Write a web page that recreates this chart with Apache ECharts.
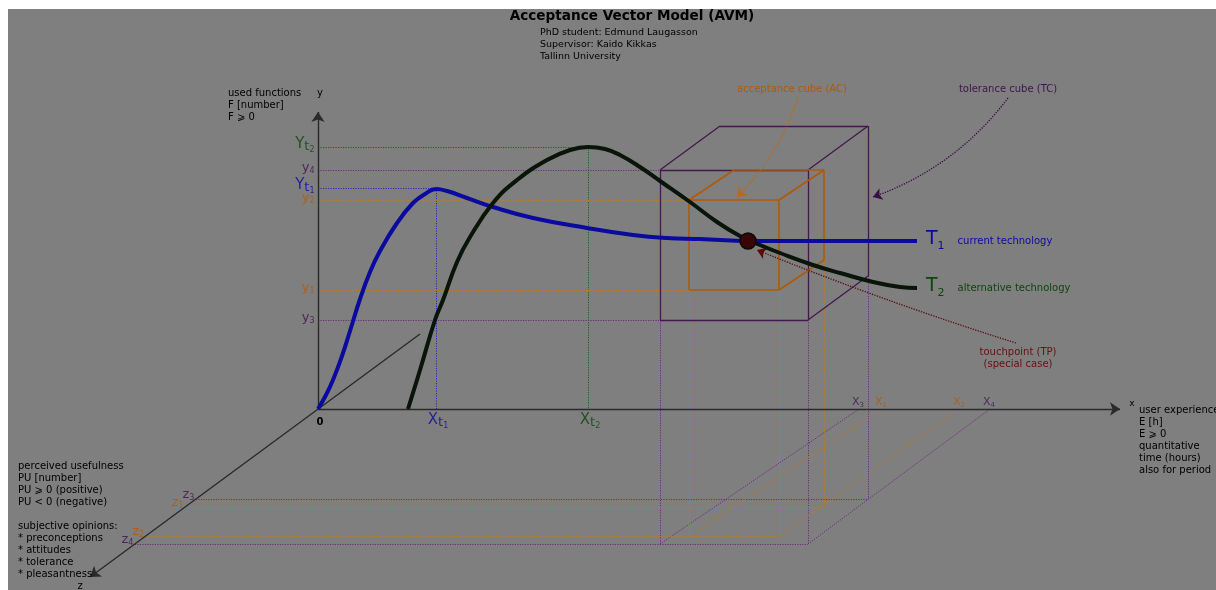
<!DOCTYPE html>
<html><head><meta charset="utf-8">
<script src="https://cdn.jsdelivr.net/npm/echarts@6/dist/echarts.min.js"></script>
<style>
html,body{margin:0;padding:0;background:#fff;width:1216px;height:590px;overflow:hidden}
#c{position:absolute;left:8px;top:9px;width:1208px;height:581px;background:#7f7f7f}
</style></head>
<body><div id="c"></div>
<script>
// ---------- data ----------
const t1X = [0, 8, 15, 24, 32, 42, 52, 62, 79, 95, 107, 118, 129, 149, 175, 215, 269, 315, 349, 382, 432, 482, 599];
const t1Y = [0, 14, 29, 53, 78, 110, 137, 158, 186, 206, 215, 220, 218, 211, 202, 191, 181, 174, 171, 170, 168, 168, 168];
const t2X = [90, 102, 117, 125, 139, 152, 175, 199, 229, 252, 270, 287, 302, 322, 342, 372, 399, 422, 442, 462, 495, 522, 555, 582, 599];
const t2Y = [0, 39, 89, 109, 147, 172, 206, 229, 249, 259, 262, 260, 254, 242, 228, 207, 187, 173, 164, 156, 144, 136, 127, 122, 121];
const touchpoint = [430, 168];

const yTickLabels = ['Yt2', 'y4', 'Yt1', 'y2', 'y1', 'y3'];
const yTickValues = [262, 239, 221, 209, 119, 89];
const xTickLabels = ['Xt1', 'Xt2', 'x3', 'x1', 'x2', 'x4'];
const xTickValues = [118, 270, 541, 564, 642, 672];
const zTickLabels = ['z3', 'z1', 'z2', 'z4'];
const zTickValues = [90, 98, 127, 135];

// ---------- style / layout ----------
const FONT = 'DejaVu Sans';
const BLUE = '#0a0aa0', GREEN = '#0c460c', T2C = '#081508', ORANGE = '#b05a06',
      PURPLE = '#40124c', DRED = '#6a0e0e', AXIS = '#2a2a2a', TXT = '#000';
const ZSLOPE = 0.737;
const tickColor = {Yt2: GREEN, Xt2: GREEN, Yt1: BLUE, Xt1: BLUE,
  y1: ORANGE, y2: ORANGE, x1: ORANGE, x2: ORANGE, z1: ORANGE, z2: ORANGE,
  y3: PURPLE, y4: PURPLE, x3: PURPLE, x4: PURPLE, z3: PURPLE, z4: PURPLE};
const TOL = {x: [342, 490], y: ['y3', 'y4'], z: ['z3', 'z4'], foot: ['x3', 'x4'], d: [60, 44]};
const ACC = {x: [371, 461], y: ['y1', 'y2'], z: ['z1', 'z2'], foot: ['x1', 'x2'], d: [45, 30]};

const yv = n => yTickValues[yTickLabels.indexOf(n)];
const xv = n => xTickValues[xTickLabels.indexOf(n)];
const zv = n => zTickValues[zTickLabels.indexOf(n)];
const zPt = dz => [-dz / ZSLOPE, -dz];

// ---------- geometry built from data ----------
const guides = {green: [], blue: [], purple: [], orange: []};
guides.green.push({coords: [[0, yv('Yt2')], [xv('Xt2'), yv('Yt2')]]}, {coords: [[xv('Xt2'), yv('Yt2')], [xv('Xt2'), 0]]});
guides.blue.push({coords: [[0, yv('Yt1')], [xv('Xt1'), yv('Yt1')]]}, {coords: [[xv('Xt1'), yv('Yt1')], [xv('Xt1'), 0]]});

function cubeParts(c, dotted) {
  const [xl, xr] = c.x, yb = yv(c.y[0]), yt = yv(c.y[1]);
  const [dx, dy] = c.d;
  const zb = zv(c.z[0]), zf = zv(c.z[1]);
  const edges = [
    [[xl, yb], [xr, yb]], [[xr, yb], [xr, yt]], [[xr, yt], [xl, yt]], [[xl, yt], [xl, yb]],
    [[xl, yt], [xl + dx, yt + dy]], [[xr, yt], [xr + dx, yt + dy]], [[xr, yb], [xr + dx, yb + dy]],
    [[xl + dx, yt + dy], [xr + dx, yt + dy]], [[xr + dx, yt + dy], [xr + dx, yb + dy]]
  ].map(c => ({coords: c}));
  [
    [[0, yt], [xl, yt]], [[0, yb], [xl, yb]],
    [[xl, yb], [xl, -zf]], [[xr, yb], [xr, -zf]], [[xr + dx, yb + dy], [xr + dx, -zb]],
    [zPt(zb), [xr + dx, -zb]], [zPt(zf), [xr, -zf]],
    [[xl, -zf], [xv(c.foot[0]), 0]], [[xr, -zf], [xv(c.foot[1]), 0]]
  ].forEach(s => dotted.push({coords: s}));
  return edges;
}
const tolEdges = cubeParts(TOL, guides.purple);
const accEdges = cubeParts(ACC, guides.orange);

// ---------- labels ----------
const RICH = {
  Bg: {fontSize: 15, lineHeight: 17, verticalAlign: 'top', fontFamily: FONT},
  Bt: {fontSize: 13, lineHeight: 17, verticalAlign: 'bottom', fontFamily: FONT},
  Bn: {fontSize: 8, lineHeight: 11, verticalAlign: 'bottom', fontFamily: FONT},
  Sg: {fontSize: 13, lineHeight: 14, verticalAlign: 'top', fontFamily: FONT},
  Sn: {fontSize: 8, lineHeight: 10, verticalAlign: 'bottom', fontFamily: FONT},
  Xg: {fontSize: 11, lineHeight: 12, verticalAlign: 'top', fontFamily: FONT},
  Xn: {fontSize: 7, lineHeight: 9, verticalAlign: 'bottom', fontFamily: FONT},
  T: {fontSize: 19, lineHeight: 22, verticalAlign: 'top', fontFamily: FONT},
  Tn: {fontSize: 11, lineHeight: 14, verticalAlign: 'bottom', fontFamily: FONT},
  d: {fontSize: 10, lineHeight: 22, fontFamily: FONT, padding: [0, 0, 0, 13]}
};
function richName(n, small) {
  if (n.indexOf('t') === 1) return '{Bg|' + n[0].toUpperCase() + '}{Bt|t}{Bn|' + n[2] + '}';
  if (small) return '{Xg|' + n[0].toUpperCase() + '}{Xn|' + n[1] + '}';
  return '{Sg|' + n[0] + '}{Sn|' + n[1] + '}';
}
const labelData = [];
yTickLabels.forEach((n, i) => labelData.push({value: [0, yTickValues[i]],
  label: {formatter: richName(n), color: tickColor[n], position: 'left', distance: 3, offset: [0, -2]}}));
xTickLabels.forEach((n, i) => {
  const big = n[1] === 't';
  labelData.push({value: [xTickValues[i], 0],
    label: {formatter: richName(n, true), color: tickColor[n], position: big ? 'bottom' : 'top', distance: big ? 2 : 1, offset: [big ? 2 : -1, 1]}});
});
zTickLabels.forEach((n, i) => labelData.push({value: zPt(zTickValues[i]),
  label: {formatter: richName(n), color: tickColor[n], position: 'left', distance: 1, offset: [0, -4]}}));

function txt(x, y, text, o) {
  return Object.assign({type: 'text', x: x - 8, y: y - 9, z: 20,
    style: Object.assign({text, fill: TXT, font: '10px ' + FONT, lineHeight: 12,
      align: 'left', verticalAlign: 'top'}, o || {})});
}

const chart = echarts.init(document.getElementById('c'), null, {renderer: 'canvas'});
const dottedStyle = c => ({color: c, width: 1, type: [1.2, 1.3], opacity: 1});
chart.setOption({
  animation: false,
  grid: {left: 0, right: 0, top: 0, bottom: 0},
  xAxis: {type: 'value', min: -310, max: 898, show: false},
  yAxis: {type: 'value', min: -181, max: 400, show: false},
  graphic: [
    txt(632, 10, 'Acceptance Vector Model (AVM)', {font: 'bold 13.6px ' + FONT, align: 'center'}),
    txt(540, 27, 'PhD student: Edmund Laugasson\nSupervisor: Kaido Kikkas\nTallinn University', {font: '9.5px ' + FONT}),
    txt(228, 87, 'used functions\nF [number]\nF \u2A7E 0'),
    txt(320, 87, 'y', {align: 'center'}),
    txt(1139, 404, 'user experience\nE [h]\nE \u2A7E 0\nquantitative\ntime (hours)\nalso for period'),
    txt(1132, 398, 'x', {font: '9px ' + FONT, align: 'center'}),
    txt(18, 460, 'perceived usefulness\nPU [number]\nPU \u2A7E 0 (positive)\nPU < 0 (negative)\n\nsubjective opinions:\n* preconceptions\n* attitudes\n* tolerance\n* pleasantness'),
    txt(80, 580, 'z', {align: 'center'}),
    txt(320, 416, '0', {font: 'bold 10px ' + FONT, align: 'center'}),
    txt(792, 83, 'acceptance cube (AC)', {fill: ORANGE, align: 'center'}),
    txt(1008, 83, 'tolerance cube (TC)', {fill: PURPLE, align: 'center'}),
    txt(1018, 346, 'touchpoint (TP)\n(special case)', {fill: DRED, align: 'center'})
  ],
  series: [
    {type: 'lines', coordinateSystem: 'cartesian2d', z: 1, silent: true, lineStyle: dottedStyle('#1a621a'), data: guides.green},
    {type: 'lines', coordinateSystem: 'cartesian2d', z: 1, silent: true, lineStyle: dottedStyle('#2525c8'), data: guides.blue},
    {type: 'lines', coordinateSystem: 'cartesian2d', z: 1, silent: true, lineStyle: dottedStyle('#6e2880'), data: guides.purple},
    {type: 'lines', coordinateSystem: 'cartesian2d', z: 1, silent: true, lineStyle: dottedStyle('#c87818'), data: guides.orange},
    {type: 'lines', coordinateSystem: 'cartesian2d', z: 3, silent: true, lineStyle: {color: '#46164f', width: 1.3, opacity: 1}, data: tolEdges},
    {type: 'lines', coordinateSystem: 'cartesian2d', z: 3, silent: true, lineStyle: {color: ORANGE, width: 1.6, opacity: 1}, data: accEdges},
    {type: 'lines', coordinateSystem: 'cartesian2d', z: 2, silent: true, symbol: ['none', 'arrow'], symbolSize: 10,
      lineStyle: {color: AXIS, width: 1.4, opacity: 1},
      data: [{coords: [[0, 0], [802, 0]]}, {coords: [[0, 0], [0, 297]]}, {coords: [[102, 75], zPt(168)]}]},
    {type: 'lines', coordinateSystem: 'cartesian2d', z: 4, silent: true, symbol: ['none', 'arrow'], symbolSize: 9,
      data: [
        {coords: [[480, 311], [419, 212]], lineStyle: {color: '#c0690f', width: 1.3, type: [1.3, 1.3], curveness: 0.12, opacity: 1}},
        {coords: [[690, 311], [555, 212]], lineStyle: {color: '#3c0c46', width: 1.3, type: [1.3, 1.3], curveness: 0.15, opacity: 1}},
        {coords: [[698, 66], [439, 159]], lineStyle: {color: '#5a0a0a', width: 1.3, type: [1.3, 1.3], curveness: 0.02, opacity: 1}}
      ]},
    {type: 'line', name: 'T1', z: 5, smooth: 0.45, symbol: 'none', silent: true,
      lineStyle: {color: BLUE, width: 4}, data: t1X.map((x, i) => [x, t1Y[i]]),
      endLabel: {show: true, distance: 9, color: BLUE, formatter: '{T|T}{Tn|1}{d|current technology}', rich: RICH}},
    {type: 'line', name: 'T2', z: 5, smooth: 0.45, symbol: 'none', silent: true,
      lineStyle: {color: T2C, width: 4}, data: t2X.map((x, i) => [x, t2Y[i]]),
      endLabel: {show: true, distance: 9, color: GREEN, formatter: '{T|T}{Tn|2}{d|alternative technology}', rich: RICH}},
    {type: 'scatter', z: 6, silent: true, symbolSize: 16, data: [touchpoint],
      itemStyle: {color: '#3a0505', borderColor: '#0a0a0a', borderWidth: 1.5, opacity: 1}},
    {type: 'scatter', z: 7, silent: true, symbolSize: 1, itemStyle: {color: 'transparent'},
      label: {show: true, rich: RICH, fontFamily: FONT}, data: labelData}
  ]
});
</script></body></html>
